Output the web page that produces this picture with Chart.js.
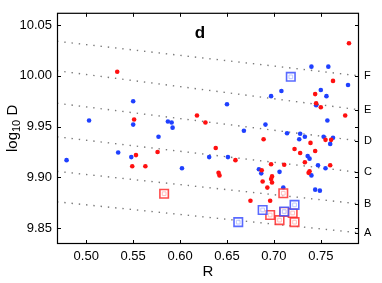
<!DOCTYPE html>
<html>
<head>
<meta charset="utf-8">
<script src="https://cdn.jsdelivr.net/npm/chart.js@4.4.1/dist/chart.umd.min.js"></script>
<style>
    html, body { margin: 0; padding: 0; background: #fff; }
</style>
</head>
<body>
<canvas id="graficoRD" width="382" height="283"></canvas>
<script>
// Ticks de los ejes
const xTicks = [0.5, 0.55, 0.6, 0.65, 0.7, 0.75];
const yTicks = [9.85, 9.9, 9.95, 10, 10.05];

// Puntos azules
const azulR = [0.503, 0.550, 0.550, 0.587, 0.591, 0.592, 0.740, 0.758, 0.779, 0.708, 0.750,
    0.697, 0.756, 0.745, 0.650, 0.757, 0.691, 0.577, 0.534, 0.479, 0.548, 0.602, 0.631,
    0.668, 0.714, 0.728, 0.733, 0.727, 0.753, 0.763, 0.760, 0.651, 0.736, 0.738, 0.747,
    0.755, 0.684, 0.6865, 0.706, 0.740, 0.710, 0.744, 0.749];
const azulD = [9.956, 9.975, 9.952, 9.955, 9.954, 9.949, 10.009, 10.009, 9.991, 9.985, 9.986,
    9.980, 9.980, 9.971, 9.972, 9.956, 9.952, 9.940, 9.9245, 9.917, 9.920, 9.909, 9.920,
    9.946, 9.9435, 9.943, 9.940, 9.9375, 9.940, 9.939, 9.933, 9.920, 9.921, 9.9185, 9.912,
    9.909, 9.908, 9.904, 9.9055, 9.902, 9.890, 9.888, 9.887];

// Puntos rojos
const rojoR = [0.533, 0.551, 0.618, 0.627, 0.780, 0.763, 0.744, 0.745, 0.750, 0.776, 0.553,
    0.576, 0.549, 0.563, 0.755, 0.761, 0.689, 0.739, 0.722, 0.744, 0.728, 0.638, 0.659,
    0.733, 0.711, 0.697, 0.760, 0.687, 0.738, 0.737, 0.641, 0.642, 0.698, 0.697, 0.688,
    0.698, 0.693, 0.675, 0.696];
const rojoD = [10.004, 9.957, 9.961, 9.954, 10.032, 9.995, 9.982, 9.973, 9.969, 9.961, 9.922,
    9.925, 9.911, 9.911, 9.937, 9.937, 9.9375, 9.934, 9.928, 9.926, 9.924, 9.929, 9.917,
    9.915, 9.9125, 9.913, 9.912, 9.907, 9.906, 9.9045, 9.9045, 9.902, 9.901, 9.8985, 9.896,
    9.895, 9.890, 9.877, 9.877];

// Cuadrados
const cuadAzulR = [0.718, 0.688, 0.722, 0.711, 0.662];
const cuadAzulD = [9.999, 9.868, 9.873, 9.8665, 9.856];
const cuadRojoR = [0.583, 0.710, 0.696, 0.711, 0.720, 0.706, 0.722];
const cuadRojoD = [9.884, 9.8845, 9.863, 9.866, 9.865, 9.858, 9.856];

// Lineas punteadas A-F (valor en el borde izquierdo y derecho)
const letras = ['A', 'B', 'C', 'D', 'E', 'F'];
const lineaIzq = [9.876, 9.906, 9.940, 9.973, 10.005, 10.034];
const lineaDer = [9.8455, 9.874, 9.905, 9.936, 9.9666, 10.000];

const X_MIN = 0.4688, X_MAX = 0.7907;
const Y_MIN = 9.8345, Y_MAX = 10.062;

const puntos = (xs, ys) => xs.map((x, i) => ({ x: x, y: ys[i] }));
const fuente = '"Liberation Sans", Arial, Helvetica, sans-serif';

const datasets = [];

// cuadrados azules (encima)
datasets.push({
    data: puntos(cuadAzulR, cuadAzulD), pointStyle: 'rect', pointRadius: 2.6,
    borderColor: 'rgba(185,195,255,0.9)', backgroundColor: 'rgba(0,0,0,0)', borderWidth: 1
});
datasets.push({
    data: puntos(cuadAzulR, cuadAzulD), pointStyle: 'rect', pointRadius: 6,
    borderColor: 'rgba(60,80,255,0.85)', backgroundColor: 'rgba(255,255,255,0.55)', borderWidth: 1.6
});
// cuadrados rojos
datasets.push({
    data: puntos(cuadRojoR, cuadRojoD), pointStyle: 'rect', pointRadius: 2.6,
    borderColor: 'rgba(255,185,185,0.9)', backgroundColor: 'rgba(0,0,0,0)', borderWidth: 1
});
datasets.push({
    data: puntos(cuadRojoR, cuadRojoD), pointStyle: 'rect', pointRadius: 6,
    borderColor: 'rgba(255,45,45,0.85)', backgroundColor: 'rgba(255,255,255,0.55)', borderWidth: 1.6
});
// puntos
datasets.push({
    data: puntos(rojoR, rojoD), pointRadius: 2.3, borderWidth: 0,
    backgroundColor: '#ff1010', borderColor: '#ff1010'
});
datasets.push({
    data: puntos(azulR, azulD), pointRadius: 2.3, borderWidth: 0,
    backgroundColor: '#1f40ff', borderColor: '#1f40ff'
});
// lineas
letras.forEach((l, i) => {
    datasets.push({
        data: [{ x: X_MIN, y: lineaIzq[i] }, { x: X_MAX, y: lineaDer[i] }],
        showLine: true, pointRadius: 0, borderColor: '#7a7a7a', borderWidth: 1.4,
        borderDash: [1.4, 5.9], fill: false
    });
});

// Marco, ticks hacia dentro y textos extra
const marcoPlugin = {
    id: 'marco',
    afterDraw(chart) {
        const { ctx, chartArea: a, scales } = chart;
        ctx.save();
        ctx.strokeStyle = '#000';
        ctx.lineWidth = 1;
        ctx.beginPath();
        xTicks.forEach(v => {
            const px = Math.round(scales.x.getPixelForValue(v)) + 0.5;
            ctx.moveTo(px, a.bottom); ctx.lineTo(px, a.bottom - 4);
            ctx.moveTo(px, a.top); ctx.lineTo(px, a.top + 4);
        });
        yTicks.forEach(v => {
            const py = Math.round(scales.y.getPixelForValue(v)) + 0.5;
            ctx.moveTo(a.left, py); ctx.lineTo(a.left + 4, py);
            ctx.moveTo(a.right, py); ctx.lineTo(a.right - 4, py);
        });
        lineaDer.forEach(v => {
            const py = Math.round(scales.y.getPixelForValue(v)) + 0.5;
            ctx.moveTo(a.right, py); ctx.lineTo(a.right - 4, py);
        });
        ctx.stroke();
        ctx.lineWidth = 1.2;
        ctx.strokeRect(a.left + 0.5, a.top + 0.5, a.right - a.left - 1, a.bottom - a.top - 1);

        ctx.fillStyle = '#000';
        // etiqueta "d"
        ctx.font = 'bold 17px ' + fuente;
        ctx.textAlign = 'center';
        ctx.textBaseline = 'middle';
        ctx.fillText('d', 200, 33);

        // etiqueta del eje x
        ctx.font = '15px ' + fuente;
        ctx.fillText('R', (a.left + a.right) / 2, 272);

        // etiqueta del eje y con subindice
        const yc = (a.top + a.bottom) / 2;
        ctx.translate(17, yc);
        ctx.rotate(-Math.PI / 2);
        ctx.textAlign = 'left';
        ctx.textBaseline = 'alphabetic';
        ctx.font = '15px ' + fuente;
        const wLog = ctx.measureText('log').width;
        const wD = ctx.measureText(' D').width;
        ctx.font = '11px ' + fuente;
        const wSub = ctx.measureText('10').width;
        let x0 = -(wLog + wSub + wD) / 2;
        ctx.font = '15px ' + fuente;
        ctx.fillText('log', x0, 0);
        ctx.font = '11px ' + fuente;
        ctx.fillText('10', x0 + wLog, 3);
        ctx.font = '15px ' + fuente;
        ctx.fillText(' D', x0 + wLog + wSub, 0);
        ctx.restore();
    }
};

new Chart(document.getElementById('graficoRD'), {
    type: 'scatter',
    data: { datasets: datasets },
    options: {
        responsive: false,
        animation: false,
        layout: { padding: { top: 5, left: 0, right: 0, bottom: 0 } },
        plugins: { legend: { display: false }, tooltip: { enabled: false } },
        scales: {
            x: {
                type: 'linear', min: X_MIN, max: X_MAX,
                afterBuildTicks: s => { s.ticks = xTicks.map(v => ({ value: v })); },
                afterFit: s => { s.height = 39; },
                grid: { display: false, drawTicks: false },
                border: { display: false },
                ticks: { color: '#000', padding: 5, maxRotation: 0, font: { size: 13, family: fuente } }
            },
            y: {
                type: 'linear', min: Y_MIN, max: Y_MAX,
                afterBuildTicks: s => { s.ticks = yTicks.map(v => ({ value: v })); },
                afterFit: s => { s.width = 57; },
                grid: { display: false, drawTicks: false },
                border: { display: false },
                ticks: { color: '#000', padding: 5, font: { size: 13, family: fuente } }
            },
            y2: {
                type: 'linear', position: 'right', min: Y_MIN, max: Y_MAX,
                afterBuildTicks: s => { s.ticks = lineaDer.map(v => ({ value: v })); },
                afterFit: s => { s.width = 23; },
                grid: { display: false, drawTicks: false },
                border: { display: false },
                ticks: {
                    color: '#000', padding: 5, font: { size: 11, family: fuente },
                    callback: (v, i) => letras[i]
                }
            }
        }
    },
    plugins: [marcoPlugin]
});
</script>
</body>
</html>
